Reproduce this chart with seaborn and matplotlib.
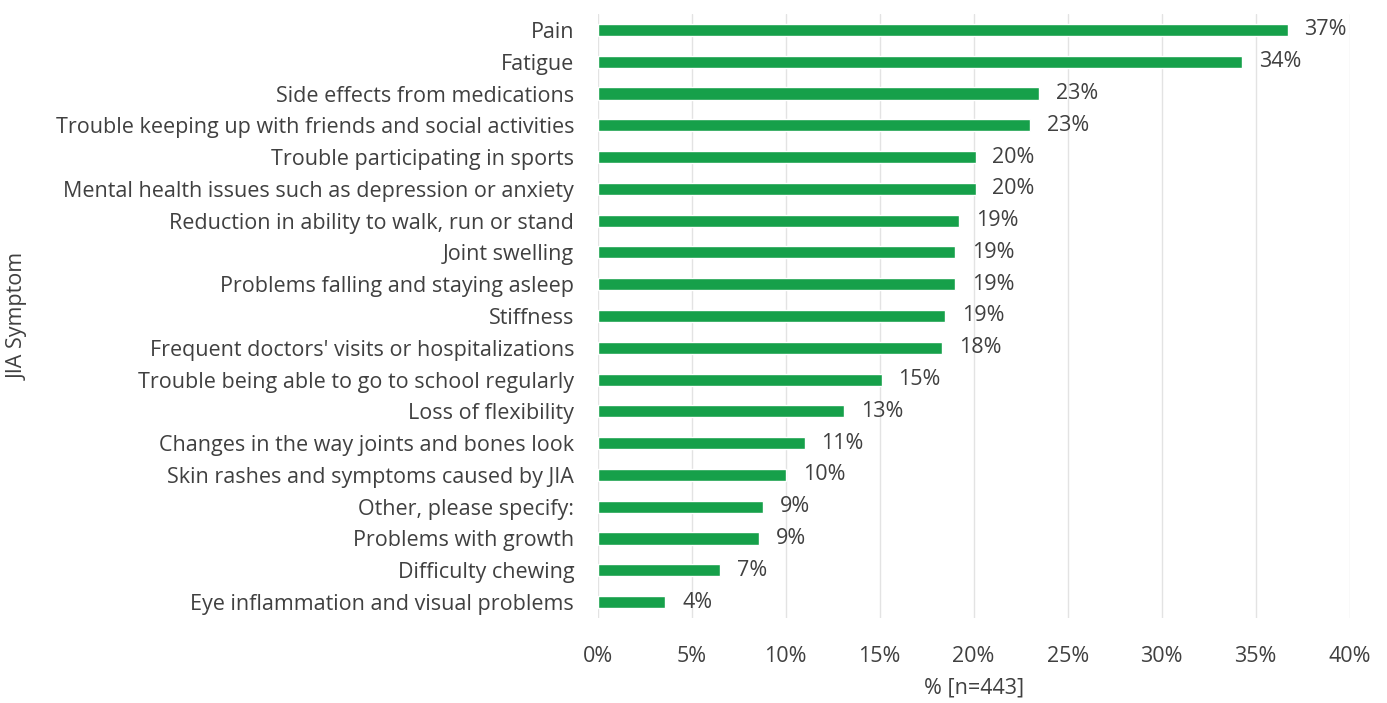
import numpy as np
import pandas as pd
import matplotlib
matplotlib.use("Agg")
import matplotlib.pyplot as plt
import seaborn as sns
from matplotlib.ticker import PercentFormatter

# --- Data ---
symptoms = [
    "Pain", "Fatigue", "Side effects from medications",
    "Trouble keeping up with friends and social activities",
    "Trouble participating in sports",
    "Mental health issues such as depression or anxiety",
    "Reduction in ability to walk, run or stand",
    "Joint swelling", "Problems falling and staying asleep", "Stiffness",
    "Frequent doctors' visits or hospitalizations",
    "Trouble being able to go to school regularly",
    "Loss of flexibility", "Changes in the way joints and bones look",
    "Skin rashes and symptoms caused by JIA", "Other, please specify:",
    "Problems with growth", "Difficulty chewing",
    "Eye inflammation and visual problems",
]
percent = [36.7, 34.3, 23.5, 23.0, 20.1, 20.1, 19.2, 19.0, 19.0, 18.5,
           18.3, 15.1, 13.1, 11.0, 10.0, 8.8, 8.6, 6.5, 3.6]
value_labels = ["37%", "34%", "23%", "23%", "20%", "20%", "19%", "19%", "19%", "19%",
                "18%", "15%", "13%", "11%", "10%", "9%", "9%", "7%", "4%"]

df = pd.DataFrame({"Symptom": symptoms, "Percent": percent})

sns.set_style("white")
plt.rcParams['font.family'] = ['Open Sans', 'DejaVu Sans']
TEXT = "#404040"
GREEN = "#16a04a"
FS = 15.5

fig = plt.figure(figsize=(13.87, 7.03), dpi=100)
ax = fig.add_axes([0.431, 0.121, 0.542, 0.859])

sns.barplot(data=df, x="Percent", y="Symptom", color=GREEN, width=0.38,
            saturation=1, ax=ax, zorder=3)

for i, (v, lab) in enumerate(zip(percent, value_labels)):
    ax.text(v + 0.9, i, lab, va="center", ha="left", fontsize=FS, color=TEXT)

ax.set_xlim(0, 40)
ax.set_xticks(np.arange(0, 41, 5))
ax.xaxis.set_major_formatter(PercentFormatter(decimals=0))
ax.grid(axis="x", color="#e3e3e3", linewidth=1, zorder=0)
ax.set_axisbelow(True)
for s in ax.spines.values():
    s.set_visible(False)
ax.tick_params(axis="both", length=0, labelsize=FS, colors=TEXT)
ax.tick_params(axis="x", pad=20)
ax.tick_params(axis="y", pad=17)
ax.set_xlabel("% [n=443]", fontsize=FS, color=TEXT, labelpad=8)
ax.set_ylabel("JIA Symptom", fontsize=FS, color=TEXT)
ax.yaxis.set_label_coords(-0.757, 0.5)

fig.savefig("out.png", dpi=100, facecolor="white")
